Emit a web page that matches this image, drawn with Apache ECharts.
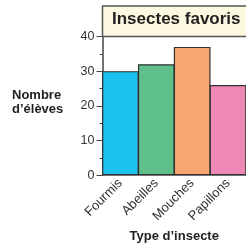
<!DOCTYPE html>
<html>
<head>
<meta charset="utf-8">
<script src="https://cdn.jsdelivr.net/npm/echarts@6/dist/echarts.min.js"></script>
<style>
  html, body { margin: 0; padding: 0; background: #fff; }
  #chart { width: 246px; height: 248px; }
</style>
</head>
<body>
<div id="chart"></div>
<script>
const categories = ["Fourmis", "Abeilles", "Mouches", "Papillons"];
const values = [30, 32, 37, 26];
const barColors = ["#1bc1ef", "#5fc08c", "#f8a66f", "#ef88b5"];
const yTicks = [0, 10, 20, 30, 40];

const chart = echarts.init(document.getElementById("chart"));
const font = "Liberation Sans, Arial, sans-serif";

const option = {
  animation: false,
  grid: { left: 102.5, top: 36.5, width: 146.5, height: 140.5 },
  graphic: [
    {
      type: "rect",
      shape: { x: 102.5, y: 6, width: 160, height: 30.5 },
      style: { fill: "#fdf9e0", stroke: "#555", lineWidth: 1.5 },
      z: 10
    },
    {
      type: "text",
      left: 112,
      top: 11,
      style: {
        text: "Insectes favoris",
        fontFamily: font,
        fontWeight: "bold",
        fontSize: 17,
        fill: "#222"
      },
      z: 11
    },
    {
      type: "text",
      left: 12,
      top: 88,
      style: {
        text: "Nombre\nd\u2019élèves",
        fontFamily: font,
        fontWeight: "bold",
        fontSize: 13,
        lineHeight: 14,
        align: "center",
        fill: "#222"
      }
    }
  ],
  xAxis: {
    type: "category",
    data: categories,
    name: "Type d\u2019insecte",
    nameLocation: "middle",
    nameGap: 53,
    nameTextStyle: { fontFamily: font, fontWeight: "bold", fontSize: 13, color: "#222" },
    axisLine: { lineStyle: { color: "#444", width: 1.5 } },
    axisTick: { show: false },
    axisLabel: {
      interval: 0,
      rotate: 45,
      margin: 6,
      fontFamily: font,
      fontSize: 13,
      color: "#333"
    }
  },
  yAxis: {
    type: "value",
    min: 0,
    max: 40,
    interval: 10,
    axisLine: { show: true, lineStyle: { color: "#444", width: 1.5 } },
    axisTick: { show: true, length: 6, lineStyle: { color: "#444" } },
    minorTick: { show: true, splitNumber: 2, length: 3, lineStyle: { color: "#444" } },
    splitLine: { show: false },
    axisLabel: {
      margin: 8,
      fontFamily: font,
      fontSize: 12.5,
      color: "#333",
      formatter: (v) => (yTicks.includes(v) ? String(v) : "")
    }
  },
  series: [
    {
      type: "bar",
      barWidth: 36.7,
      barGap: "0%",
      barCategoryGap: "0%",
      data: values.map((v, i) => ({
        value: v,
        itemStyle: { color: barColors[i], borderColor: "#333", borderWidth: 1.2 }
      }))
    }
  ]
};

chart.setOption(option);
</script>
</body>
</html>
